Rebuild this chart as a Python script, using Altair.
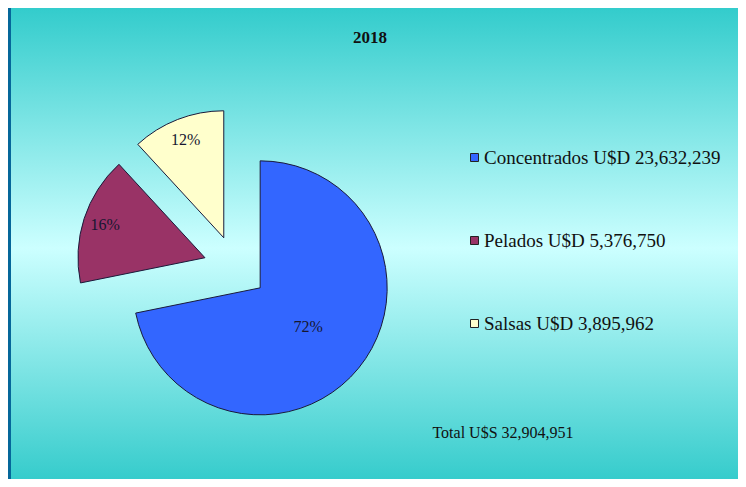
import altair as alt
import pandas as pd

# ---- data ----
categories = ["Concentrados", "Pelados", "Salsas"]
values = [23632239, 5376750, 3895962]
colors = ["#3366ff", "#993366", "#ffffcc"]
title_text = "2018"
total_text = f"Total U$S {sum(values):,}"

# ---- layout / style ----
W, H = 730, 471
CX, CY = 227.4, 259.6      # pie centre (before explode)
R = 127                     # pie radius
EXPLODE = 32                # explode distance

legend_labels = [f"{c} U$D {v:,}" for c, v in zip(categories, values)]

df = pd.DataFrame({"cat": categories, "value": values})

xs = alt.Scale(domain=[0, W], range=[0, W], nice=False, zero=False)
ys = alt.Scale(domain=[0, H], range=[0, H], nice=False, zero=False)

base = (
    alt.Chart(df)
    .transform_joinaggregate(total="sum(value)")
    .transform_window(cum="sum(value)", frame=[None, 0])
    .transform_calculate(
        a0="(datum.cum - datum.value) / datum.total * 2 * PI",
        a1="datum.cum / datum.total * 2 * PI",
        mid="(datum.cum - datum.value / 2) / datum.total * 2 * PI",
        share="datum.value / datum.total",
    )
    .transform_calculate(
        px=f"{CX} + {EXPLODE} * sin(datum.mid)",
        py=f"{CY} - {EXPLODE} * cos(datum.mid)",
        lr="datum.share > 0.5 ? 62 : 105",
        pct="format(datum.share, '.0%')",
        label="datum.cat + ' U$D ' + format(datum.value, ',')",
    )
    .transform_calculate(
        lx="datum.px + datum.lr * sin(datum.mid)",
        ly="datum.py - datum.lr * cos(datum.mid)",
    )
)

gradient = alt.LinearGradient(
    gradient="linear",
    stops=[
        alt.GradientStop(color="#33cccc", offset=0),
        alt.GradientStop(color="#ccffff", offset=0.51),
        alt.GradientStop(color="#36cccc", offset=1),
    ],
    x1=0, x2=0, y1=0, y2=1,
)

bg = alt.Chart(pd.DataFrame({"k": [0]})).mark_rect(fill=gradient).encode(
    x=alt.value(3), x2=alt.value(W), y=alt.value(0), y2=alt.value(H)
)

arcs = base.mark_arc(outerRadius=R, stroke="#1a1a3a", strokeWidth=1).encode(
    x=alt.X("px:Q", scale=xs, axis=None),
    y=alt.Y("py:Q", scale=ys, axis=None),
    theta=alt.Theta("a0:Q", scale=None),
    theta2="a1:Q",
    color=alt.Color(
        "label:N",
        scale=alt.Scale(domain=legend_labels, range=colors),
        legend=alt.Legend(
            title=None,
            orient="none",
            legendX=457,
            legendY=140,
            direction="vertical",
            symbolType="square",
            symbolSize=64,
            symbolStrokeColor="#222222",
            symbolStrokeWidth=1,
            symbolOpacity=1,
            labelFont="Liberation Serif",
            labelFontSize=19,
            labelColor="#111111",
            labelOffset=0,
            labelLimit=400,
            rowPadding=63,
        ),
    ),
)

pct_labels = base.mark_text(
    font="Liberation Serif", fontSize=16, color="#161630"
).encode(
    x=alt.X("lx:Q", scale=xs, axis=None),
    y=alt.Y("ly:Q", scale=ys, axis=None),
    text="pct:N",
)

title = alt.Chart(pd.DataFrame({"t": [title_text]})).mark_text(
    font="Liberation Serif", fontSize=17, fontWeight="bold", color="#111111"
).encode(x=alt.value(362), y=alt.value(30), text="t:N")

total = alt.Chart(pd.DataFrame({"t": [total_text]})).mark_text(
    font="Liberation Serif", fontSize=16, color="#111111"
).encode(x=alt.value(495), y=alt.value(425), text="t:N")

chart = (
    alt.layer(bg, arcs, pct_labels, title, total)
    .properties(
        width=W,
        height=H,
        autosize=alt.AutoSizeParams(type="none"),
        padding=0,
        background="#05679a",
    )
    .configure_view(stroke=None)
)

chart.save("out.html", embed_options={"renderer": "svg", "actions": False})
